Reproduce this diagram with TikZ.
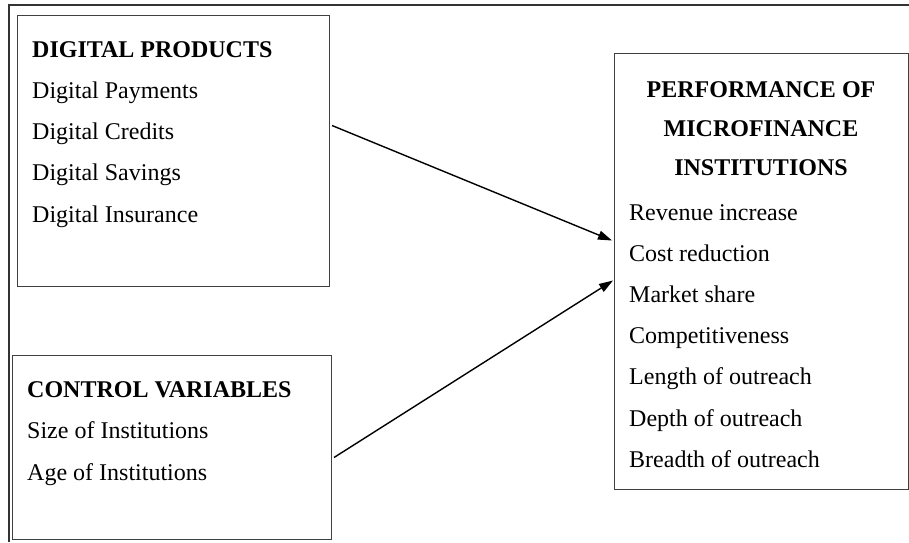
\documentclass[tikz,border=0pt]{standalone}
\usepackage{fontspec}
\setmainfont{Liberation Serif}
\usetikzlibrary{arrows.meta, positioning}
\tikzset{%
	every box/.style={
		draw=black!75,
		line width=1pt,
		inner sep=0pt,
		anchor=north west
	},
	item/.style={
		anchor=base west,
		inner sep=0pt,
		font=\fontsize{24}{29}\selectfont
	},
	head/.style={
		item,
		font=\fontsize{24}{29}\selectfont\bfseries
	},
	link/.style={
		-{Triangle[length=14pt,width=9pt]},
		line width=1.4pt
	},
}
\begin{document}
\begin{tikzpicture}[x=1pt, y=-1pt]
			\useasboundingbox (0,0) rectangle (909,542);
			% Draw the outer frame
			\draw[line width=1.2pt, black!80] (9,542) -- (9,5) -- (909,5);
			
			% Draw the boxes
			\node[every box, minimum width=312, minimum height=271] (products) at (17,15) {};
			\node[every box, minimum width=319, minimum height=184] (control) at (12,355) {};
			\node[every box, minimum width=294, minimum height=436] (perf) at (614,53) {};
			
			% Texts of the first box
			\node[head] (prod-0) at (32,57) {DIGITAL PRODUCTS};
			\foreach \txt [count=\i] in {Digital Payments, Digital Credits, Digital Savings, Digital Insurance}
				\node[item] (prod-\i) at (32,57+41.3*\i) {\txt};
			
			% Texts of the second box
			\node[head] (ctrl-0) at (27,397) {CONTROL VARIABLES};
			\foreach \txt [count=\i] in {Size of Institutions, Age of Institutions}
				\node[item] (ctrl-\i) at (27,397+41.5*\i) {\txt};
			
			% Texts of the third box
			\foreach \txt [count=\i] in {PERFORMANCE OF, MICROFINANCE, INSTITUTIONS}
				\node[head, anchor=base] (perfhead-\i) at (761,58+39*\i) {\txt};
			\foreach \txt [count=\i] in {Revenue increase, Cost reduction, Market share, Competitiveness, Length of outreach, Depth of outreach, Breadth of outreach}
				\node[item] (perf-\i) at (629,178.8+41.2*\i) {\txt};
			
			% Draw the arrows
			\draw[link] ([xshift=2pt, yshift=25.5pt]products.east) -- ([xshift=-2pt, yshift=31pt]perf.west);
			\draw[link] ([xshift=2pt, yshift=-10pt]control.east) -- ([xshift=-1pt, yshift=-9pt]perf.west);
		\end{tikzpicture}
\end{document}
